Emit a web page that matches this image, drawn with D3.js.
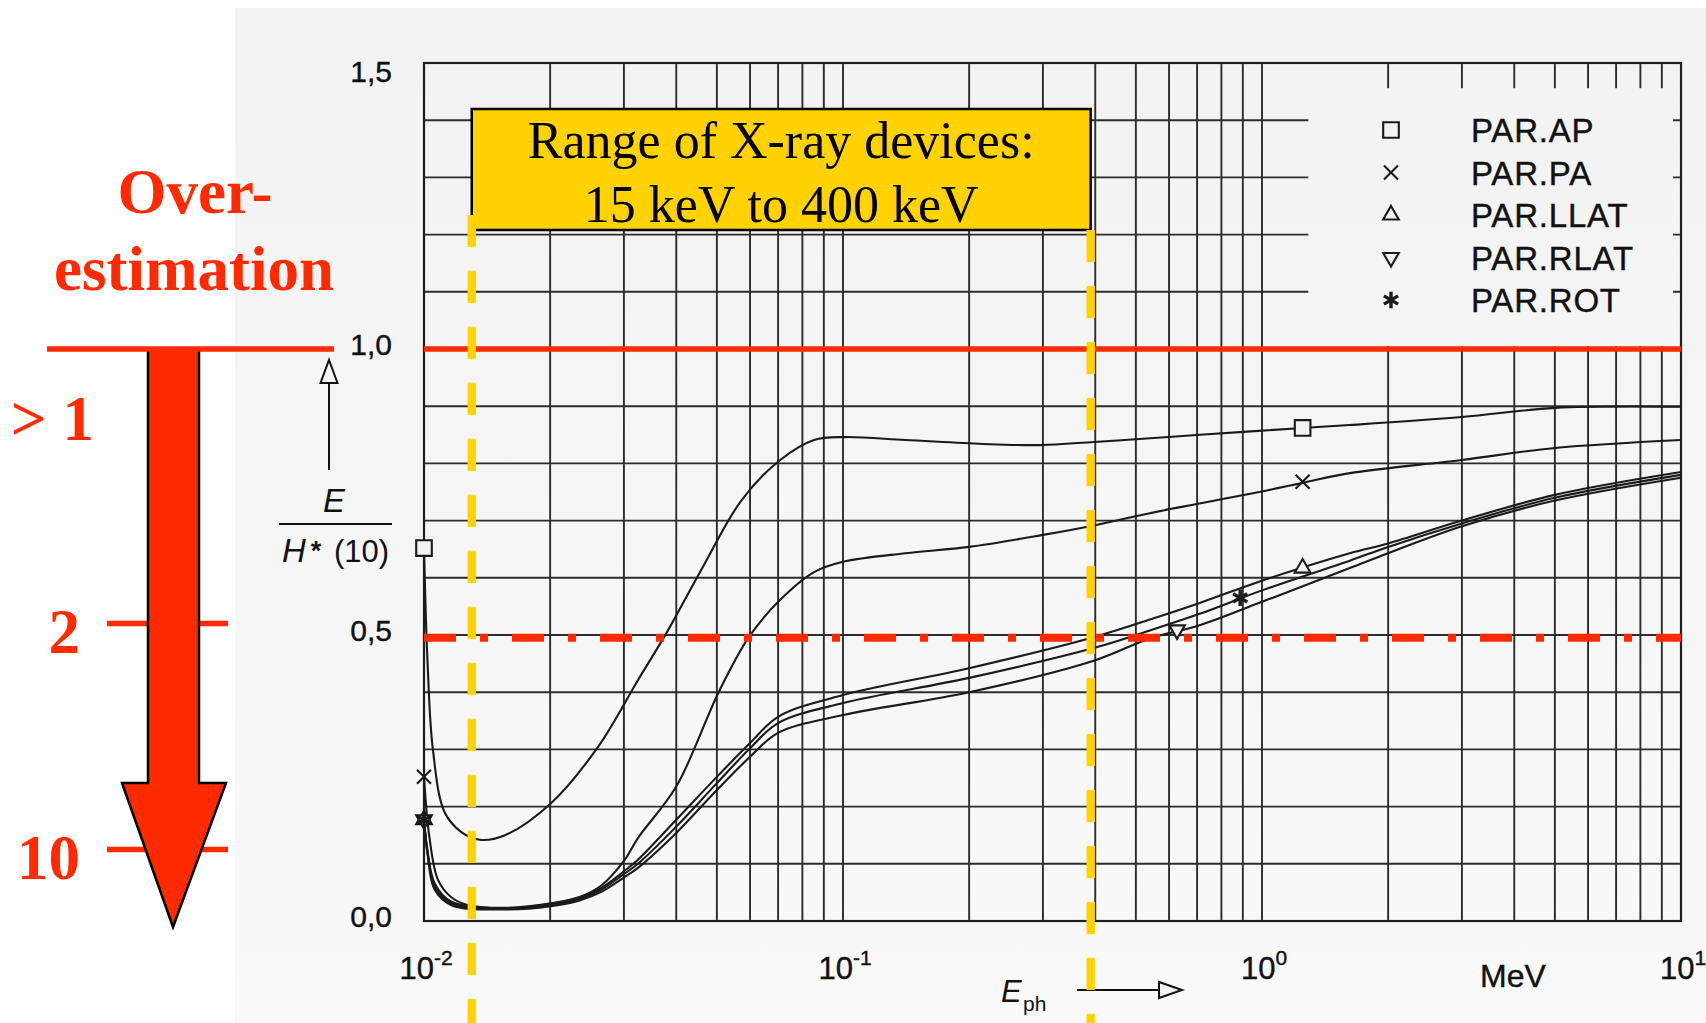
<!DOCTYPE html>
<html>
<head>
<meta charset="utf-8">
<script src="https://cdn.jsdelivr.net/npm/d3@7"></script>
<style>
  body { margin: 0; background: #fff; }
  svg { display: block; }
</style>
</head>
<body>
<div id="chart"></div>
<script>
// values: photon energy in MeV, response E / H*(10)
const seriesNames = ["PAR.AP", "PAR.PA", "PAR.LLAT", "PAR.RLAT", "PAR.ROT"];

const apEnergy = [0.01, 0.0102, 0.0105, 0.0112, 0.0123, 0.0136, 0.0156, 0.0201, 0.026, 0.0324, 0.038, 0.0463, 0.0573, 0.0708, 0.0853, 0.101, 0.141, 0.216, 0.295, 0.397, 0.541, 0.711, 1.25, 1.62, 3, 5, 10];
const apValue = [0.652, 0.45, 0.30, 0.19, 0.155, 0.142, 0.150, 0.206, 0.304, 0.421, 0.505, 0.619, 0.736, 0.806, 0.841, 0.846, 0.841, 0.834, 0.832, 0.8375, 0.844, 0.85, 0.862, 0.867, 0.881, 0.897, 0.899];

const paEnergy = [0.01, 0.0103, 0.0108, 0.0116, 0.0127, 0.0153, 0.0201, 0.0235, 0.0265, 0.03, 0.0324, 0.04, 0.0505, 0.0597, 0.0707, 0.0853, 0.1, 0.141, 0.2, 0.3, 0.4, 0.54, 0.71, 1.0, 1.25, 1.62, 3, 5, 10];
const paValue = [0.252, 0.147, 0.072, 0.042, 0.028, 0.023, 0.031, 0.042, 0.062, 0.105, 0.145, 0.235, 0.40, 0.497, 0.561, 0.610, 0.628, 0.643, 0.654, 0.675, 0.692, 0.713, 0.730, 0.751, 0.766, 0.783, 0.806, 0.827, 0.841];

// LLAT, RLAT and ROT were read at the same energies
const latEnergy = [0.01, 0.0102, 0.0106, 0.0116, 0.0153, 0.0201, 0.0235, 0.0265, 0.03, 0.0324, 0.04, 0.05, 0.06, 0.07, 0.1, 0.2, 0.4, 0.54, 0.71, 1.0, 1.62, 2, 3, 5, 10];
const llatValue = [0.177, 0.122, 0.066, 0.034, 0.022, 0.030, 0.041, 0.058, 0.087, 0.107, 0.177, 0.252, 0.311, 0.357, 0.395, 0.442, 0.497, 0.527, 0.556, 0.595, 0.643, 0.66, 0.70, 0.745, 0.785];
const rlatValue = [0.177, 0.116, 0.055, 0.028, 0.020, 0.026, 0.036, 0.051, 0.076, 0.093, 0.154, 0.229, 0.287, 0.329, 0.36, 0.40, 0.456, 0.494, 0.517, 0.558, 0.617, 0.643, 0.69, 0.735, 0.775];
const rotValue = [0.177, 0.119, 0.060, 0.031, 0.021, 0.028, 0.038, 0.055, 0.082, 0.100, 0.165, 0.241, 0.302, 0.346, 0.381, 0.425, 0.478, 0.508, 0.537, 0.578, 0.630, 0.654, 0.695, 0.74, 0.78];

// marker positions on each curve
const markerEnergy = [[0.01, 1.25], [0.01, 1.25], [0.01, 1.25], [0.01, 0.627], [0.01, 0.887]];
const markerValue = [[0.652, 0.862], [0.252, 0.768], [0.177, 0.617], [0.177, 0.509], [0.177, 0.565]];

const xTickValues = [0.01, 0.1, 1, 10];
const xTickExp = ["-2", "-1", "0", "1"];
const yTickValues = [0, 0.5, 1.0, 1.5];
const yTickLabels = ["0,0", "0,5", "1,0", "1,5"];

const xrayRange = [0.013, 0.39];          // yellow dashed limits (MeV)
const limitLevel = 1.0;                    // red solid line
const halfLevel = 0.495;                   // red dash-dot line
const overLevels = [1.0, 0.52, 0.125];     // left red scale ticks
const overLabels = ["> 1", "2", "10"];

const W = 1706, H = 1023;
const paper = "#f3f3f3", red = "#ff2a00", gold = "#ffd200", ink = "#1a1a1a";
const sans = "'Liberation Sans', Arial, Helvetica, sans-serif";
const serif = "'Liberation Serif', 'Times New Roman', serif";

const x = d3.scaleLog().domain([0.01, 10]).range([424, 1681]);
const y = d3.scaleLinear().domain([0, 1.5]).range([921, 63]);

const svg = d3.select("#chart").append("svg")
    .attr("width", W)
    .attr("height", H);

// scanned paper
const grad = svg.append("defs").append("linearGradient")
    .attr("id", "paper")
    .attr("gradientUnits", "userSpaceOnUse")
    .attr("x1", 0).attr("y1", 0).attr("x2", 0).attr("y2", H);
grad.append("stop").attr("offset", 0).attr("stop-color", "#f2f2f2");
grad.append("stop").attr("offset", 1).attr("stop-color", "#f9f9f9");

svg.append("rect").attr("x", 235).attr("y", 8)
    .attr("width", W - 235).attr("height", H - 8)
    .attr("fill", "url(#paper)");

// grid
const grid = svg.append("g").attr("stroke", "#2c2c2c").attr("stroke-width", 1.9);
grid.selectAll(".vx")
  .data(x.ticks())
  .join("line")
    .attr("x1", d => x(d)).attr("x2", d => x(d))
    .attr("y1", y(0)).attr("y2", y(1.5));
grid.selectAll(".hy")
  .data(d3.range(16).map(i => i / 10))
  .join("line")
    .attr("x1", x(0.01)).attr("x2", x(10))
    .attr("y1", d => y(d)).attr("y2", d => y(d));

// blank legend area of the original sheet
svg.append("rect")
    .attr("x", x(1.29)).attr("y", y(1.456))
    .attr("width", x(10) - 8 - x(1.29))
    .attr("height", y(1.0) - 3 - y(1.456))
    .attr("fill", "url(#paper)");

// frame
svg.append("rect")
    .attr("x", x(0.01)).attr("y", y(1.5))
    .attr("width", x(10) - x(0.01)).attr("height", y(0) - y(1.5))
    .attr("fill", "none").attr("stroke", "#1e1e1e").attr("stroke-width", 2.2);

// curves
const series = [
  {E: apEnergy, V: apValue},
  {E: paEnergy, V: paValue},
  {E: latEnergy, V: llatValue},
  {E: latEnergy, V: rlatValue},
  {E: latEnergy, V: rotValue}
];
const line = d3.line()
    .x(d => x(d[0]))
    .y(d => y(d[1]))
    .curve(d3.curveCatmullRom.alpha(0.5));

svg.append("g")
  .selectAll("path")
  .data(series)
  .join("path")
    .attr("d", s => line(s.E.map((e, i) => [e, s.V[i]])))
    .attr("fill", "none")
    .attr("stroke", ink)
    .attr("stroke-width", 2.1);

// markers
const symbolTypes = [d3.symbolSquare2, d3.symbolTimes, d3.symbolTriangle2, d3.symbolTriangle2, d3.symbolAsterisk];
const symbolSizes = [310, 130, 175, 175, 190];
const symbolRotate = [0, 0, 0, 180, 0];
function drawSymbol(g, i, cx, cy) {
  g.append("path")
    .attr("d", d3.symbol(symbolTypes[i], symbolSizes[i])())
    .attr("transform", `translate(${cx},${cy}) rotate(${symbolRotate[i]})`)
    .attr("fill", i === 1 || i === 4 ? "none" : paper)
    .attr("stroke", ink)
    .attr("stroke-width", i === 4 ? 3.4 : 2.1);
}
const markG = svg.append("g");
markerEnergy.forEach((es, i) => {
  es.forEach((e, j) => drawSymbol(markG, i, x(e), y(markerValue[i][j])));
});

// legend
const legG = svg.append("g");
seriesNames.forEach((name, i) => {
  const cy = 130 + i * 42.5;
  drawSymbol(legG, i, 1391, cy);
  legG.append("text")
      .attr("x", 1471).attr("y", cy + 12)
      .attr("font-family", sans).attr("font-size", 33)
      .attr("letter-spacing", 0.8)
      .attr("fill", "#111").attr("stroke", "#111").attr("stroke-width", 0.4)
      .text(name);
});

// tick labels
svg.append("g")
  .selectAll("text")
  .data(yTickValues)
  .join("text")
    .attr("x", 392)
    .attr("y", d => Math.max(y(d) + 6, y(1.5) + 19))
    .attr("text-anchor", "end")
    .attr("font-family", sans).attr("font-size", 30)
    .attr("fill", "#111").attr("stroke", "#111").attr("stroke-width", 0.4)
    .text((d, i) => yTickLabels[i]);

const xt = svg.append("g")
  .selectAll("text")
  .data(xTickValues)
  .join("text")
    .attr("x", d => x(d) + 2)
    .attr("y", 979)
    .attr("text-anchor", "middle")
    .attr("font-family", sans).attr("font-size", 31)
    .attr("fill", "#111").attr("stroke", "#111").attr("stroke-width", 0.4);
xt.append("tspan").text("10");
xt.append("tspan").attr("dy", -14).attr("font-size", 21).text((d, i) => xTickExp[i]);

svg.append("text")
    .attr("x", 1480).attr("y", 987)
    .attr("font-family", sans).attr("font-size", 32)
    .attr("fill", "#111").attr("stroke", "#111").attr("stroke-width", 0.4)
    .text("MeV");

// x axis title with arrow
const xl = svg.append("g").attr("fill", "#111").attr("font-family", sans);
xl.append("text").attr("x", 1001).attr("y", 1002)
    .attr("font-size", 31).attr("font-style", "italic").text("E");
xl.append("text").attr("x", 1023).attr("y", 1011)
    .attr("font-size", 21).text("ph");
xl.append("line").attr("x1", 1077).attr("x2", 1159).attr("y1", 990).attr("y2", 990)
    .attr("stroke", "#111").attr("stroke-width", 2);
xl.append("path").attr("d", "M1182,990L1159,982L1159,998Z")
    .attr("fill", paper).attr("stroke", "#111").attr("stroke-width", 2);

// y axis title with arrow
const yl = svg.append("g").attr("fill", "#111").attr("font-family", sans);
yl.append("line").attr("x1", 329).attr("x2", 329).attr("y1", 470).attr("y2", 383)
    .attr("stroke", "#111").attr("stroke-width", 2);
yl.append("path").attr("d", "M329,360L337.5,383L320.5,383Z")
    .attr("fill", paper).attr("stroke", "#111").attr("stroke-width", 2);
yl.append("text").attr("x", 334).attr("y", 512).attr("text-anchor", "middle")
    .attr("font-size", 33).attr("font-style", "italic").text("E");
yl.append("line").attr("x1", 279).attr("x2", 392).attr("y1", 524).attr("y2", 524)
    .attr("stroke", "#111").attr("stroke-width", 2);
yl.append("text").attr("x", 282).attr("y", 562)
    .attr("font-size", 33).attr("font-style", "italic").text("H");
yl.append("text").attr("x", 316).attr("y", 560).attr("text-anchor", "middle")
    .attr("font-size", 27).attr("font-weight", "bold").text("*");
yl.append("text").attr("x", 334).attr("y", 562)
    .attr("font-size", 31).text("(10)");

// left over-estimation scale
const lg = svg.append("g");
lg.selectAll("line.tk")
  .data(overLevels.slice(1))
  .join("line")
    .attr("x1", 107).attr("x2", 228)
    .attr("y1", d => y(d)).attr("y2", d => y(d))
    .attr("stroke", red).attr("stroke-width", 5.5);

lg.append("path")
    .attr("d", `M148,${y(limitLevel)}L148,783L122,783L173,927L226,783L199,783L199,${y(limitLevel)}`)
    .attr("fill", red).attr("stroke", "#000").attr("stroke-width", 2.5)
    .attr("stroke-linejoin", "miter");

lg.selectAll("text.ol")
  .data(overLevels)
  .join("text")
    .attr("x", (d, i) => i === 0 ? 94 : 80)
    .attr("y", (d, i) => i === 0 ? y(d) + 91 : y(d) + 29)
    .attr("text-anchor", "end")
    .attr("font-family", serif).attr("font-weight", "bold").attr("font-size", 63)
    .attr("fill", red)
    .text((d, i) => overLabels[i]);

lg.append("text").attr("x", 195).attr("y", 213).attr("text-anchor", "middle")
    .attr("font-family", serif).attr("font-weight", "bold").attr("font-size", 63)
    .attr("fill", red).text("Over-");
lg.append("text").attr("x", 194).attr("y", 290).attr("text-anchor", "middle")
    .attr("font-family", serif).attr("font-weight", "bold").attr("font-size", 63)
    .attr("fill", red).text("estimation");

// red reference lines
svg.append("line")
    .attr("x1", 47).attr("x2", 334)
    .attr("y1", y(limitLevel)).attr("y2", y(limitLevel))
    .attr("stroke", red).attr("stroke-width", 5.5);
svg.append("line")
    .attr("x1", x(0.01)).attr("x2", x(10))
    .attr("y1", y(limitLevel)).attr("y2", y(limitLevel))
    .attr("stroke", red).attr("stroke-width", 5.5);
svg.append("line")
    .attr("x1", x(0.01)).attr("x2", x(10))
    .attr("y1", y(halfLevel)).attr("y2", y(halfLevel))
    .attr("stroke", red).attr("stroke-width", 8)
    .attr("stroke-dasharray", "32,24,8,24");

// x-ray range box and dashed limits
const boxTop = 109, boxBottom = 230;
svg.append("rect")
    .attr("x", x(xrayRange[0])).attr("y", boxTop)
    .attr("width", x(xrayRange[1]) - x(xrayRange[0]))
    .attr("height", boxBottom - boxTop)
    .attr("fill", gold).attr("stroke", "#000").attr("stroke-width", 2.5);

const bx = (x(xrayRange[0]) + x(xrayRange[1])) / 2;
svg.append("text").attr("x", bx).attr("y", 158).attr("text-anchor", "middle")
    .attr("font-family", serif).attr("font-size", 52).attr("fill", "#000")
    .text("Range of X-ray devices:");
svg.append("text").attr("x", bx).attr("y", 222).attr("text-anchor", "middle")
    .attr("font-family", serif).attr("font-size", 52).attr("fill", "#000")
    .text("15 keV to 400 keV");

svg.append("g")
  .selectAll("line")
  .data(xrayRange)
  .join("line")
    .attr("x1", d => x(d)).attr("x2", d => x(d))
    .attr("y1", (d, i) => i === 0 ? 215 : boxBottom).attr("y2", H)
    .attr("stroke", gold).attr("stroke-width", 8.3)
    .attr("stroke-dasharray", "32,24");
</script>
</body>
</html>
